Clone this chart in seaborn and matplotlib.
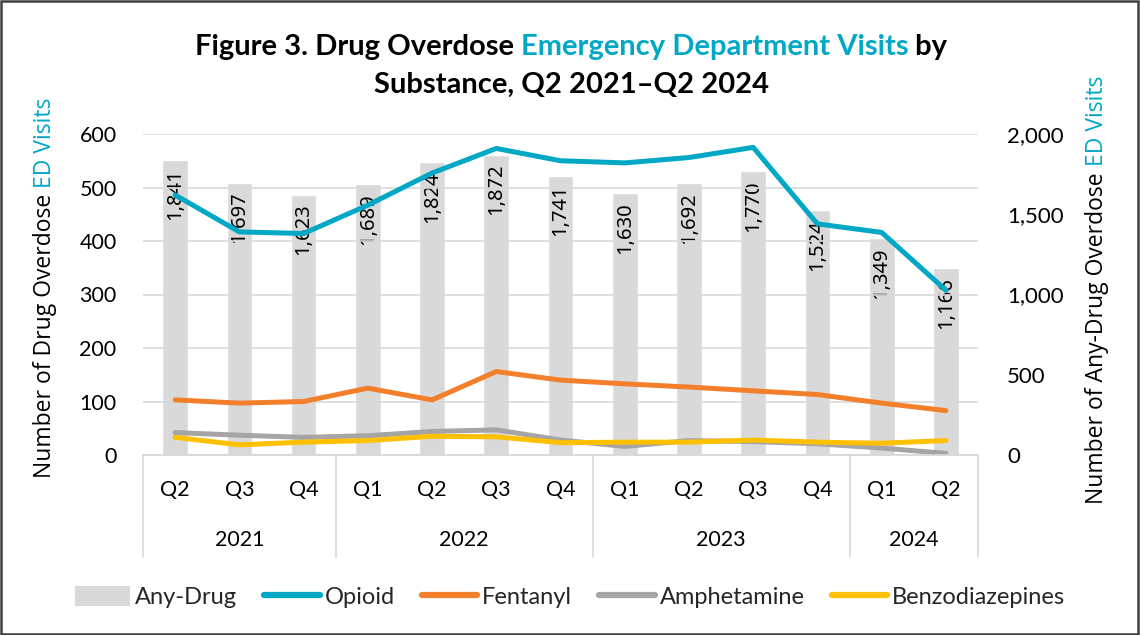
import numpy as np
import pandas as pd
import matplotlib
matplotlib.use("Agg")
import matplotlib.pyplot as plt
import matplotlib.transforms as mtransforms
from matplotlib.patches import Patch, Rectangle
from matplotlib.lines import Line2D
import seaborn as sns

# ---- data ----
quarters = ["Q2", "Q3", "Q4", "Q1", "Q2", "Q3", "Q4", "Q1", "Q2", "Q3", "Q4", "Q1", "Q2"]
years = ["2021", "2022", "2023", "2024"]
quarters_per_year = [3, 4, 4, 2]
any_drug = [1841, 1697, 1623, 1689, 1824, 1872, 1741, 1630, 1692, 1770, 1524, 1349, 1166]
opioid = [486, 417, 414, 467, 527, 573, 550, 546, 556, 575, 432, 416, 308]
fentanyl = [103, 97, 100, 125, 103, 156, 140, 133, 127, 120, 113, 97, 83]
amphetamine = [42, 37, 33, 36, 44, 47, 28, 16, 27, 25, 21, 13, 3]
benzodiazepines = [33, 19, 24, 27, 35, 34, 23, 24, 24, 28, 24, 22, 27]

TEAL = "#00A8C6"
ORANGE = "#F47F2A"
GRAY = "#A5A5A5"
YELLOW = "#FFC000"
BAR = "#D9D9D9"
GRID = "#D9D9D9"

series = {
    "Opioid": (opioid, TEAL),
    "Fentanyl": (fentanyl, ORANGE),
    "Amphetamine": (amphetamine, GRAY),
    "Benzodiazepines": (benzodiazepines, YELLOW),
}

n = len(quarters)
idx = np.arange(n)
bars_df = pd.DataFrame({"pos": idx, "visits": any_drug})
lines_df = pd.concat(
    [pd.DataFrame({"pos": idx, "visits": vals, "series": name}) for name, (vals, _) in series.items()],
    ignore_index=True,
)

sns.set_theme(style="white")
plt.rcParams["font.family"] = ["Lato", "DejaVu Sans"]

W, H = 1140, 635
fig = plt.figure(figsize=(W / 100, H / 100), dpi=100)
fig.subplots_adjust(left=143 / W, right=978 / W, bottom=(H - 455) / H, top=(H - 134) / H)
ax = fig.add_subplot(111)
ax2 = ax.twinx()

# bars on the secondary (right) axis, lines on the primary axis drawn above
ax.set_zorder(ax2.get_zorder() + 1)
ax.patch.set_visible(False)

sns.barplot(data=bars_df, x="pos", y="visits", ax=ax2, color=BAR, width=0.4,
            saturation=1, errorbar=None)
sns.lineplot(data=lines_df, x="pos", y="visits", hue="series",
             palette={k: c for k, (_, c) in series.items()}, ax=ax, linewidth=3.6,
             legend=False, solid_capstyle="round", solid_joinstyle="round")

ax.set_xlim(-0.5, n - 0.5)
ax2.set_xlim(-0.5, n - 0.5)
ax.set_ylim(0, 600)
ax2.set_ylim(0, 2000)
ax.set_yticks(range(0, 601, 100))
ax2.set_yticks(range(0, 2001, 500))
ax2.set_yticklabels([f"{v:,}" for v in range(0, 2001, 500)])
ax.yaxis.grid(True, color=GRID, linewidth=1.2)
ax2.grid(False)
ax.set_xlabel("")
ax.set_ylabel("")
ax2.set_xlabel("")
ax2.set_ylabel("")

for a in (ax, ax2):
    for s in ("top", "left", "right"):
        a.spines[s].set_visible(False)
    a.spines["bottom"].set_color(GRID)
    a.spines["bottom"].set_linewidth(1.2)

ax.tick_params(axis="y", length=0, pad=19, labelsize=15.5, labelcolor="black")
ax2.tick_params(axis="y", length=0, pad=21, labelsize=16, labelcolor="black")
ax.set_xticks(idx)
ax.set_xticklabels(quarters)
ax.tick_params(axis="x", length=0, pad=18, labelsize=15.5, labelcolor="black")
ax2.tick_params(axis="x", length=0, labelbottom=False)

# value labels inside the top of each bar
for i, v in enumerate(any_drug):
    ax2.annotate(f"{v:,}", xy=(i, v), xytext=(0, -6.5), textcoords="offset points",
                 rotation=90, ha="center", va="top", fontsize=14.5,
                 family=["Noto Sans", "DejaVu Sans"], color="black")

# year groups below the quarter labels
trans = mtransforms.blended_transform_factory(ax.transData, ax.transAxes)
bounds = np.concatenate([[0], np.cumsum(quarters_per_year)]) - 0.5
for b in bounds:
    ax.plot([b, b], [0, -0.318], transform=trans, color=GRID, lw=1.2, clip_on=False)
for yr, lo, hi in zip(years, bounds[:-1], bounds[1:]):
    ax.text((lo + hi) / 2, -0.265, yr, transform=trans, ha="center", va="center",
            fontsize=15.5, color="black")

# multi-colour text helper (pixel coordinates)
renderer = fig.canvas.get_renderer()
ident = mtransforms.IdentityTransform()


def text_width(s, **kw):
    t = fig.text(0, 0, s, transform=ident, **kw)
    w = t.get_window_extent(renderer).width
    t.remove()
    return w


def multicolor(pieces, cx, cy, rotation=0, **kw):
    full = "".join(p for p, _ in pieces)
    total = text_width(full, **kw)
    for k, (p, c) in enumerate(pieces):
        rest = "".join(q for q, _ in pieces[k:])
        off = total - text_width(rest, **kw)
        if rotation == 0:
            fig.text(cx - total / 2 + off, cy, p, color=c, transform=ident,
                     ha="left", va="center", **kw)
        else:
            fig.text(cx, cy - total / 2 + off, p, color=c, transform=ident,
                     rotation=90, ha="center", va="bottom", **kw)


title_kw = dict(fontsize=21, fontweight="bold", family=["Lato", "DejaVu Sans"])
multicolor([("Figure 3. Drug Overdose ", "black"),
            ("Emergency Department Visits", TEAL),
            (" by", "black")], 571, H - 47, **title_kw)
multicolor([("Substance, Q2 2021\u2013Q2 2024", "black")], 572, H - 85, **title_kw)

label_kw = dict(fontsize=16.5, family=["Open Sans", "DejaVu Sans"])
multicolor([("Number of Drug Overdose ", "black"), ("ED Visits", TEAL)],
           45, H - 288, rotation=90, **label_kw)
multicolor([("Number of Any-Drug Overdose ", "black"), ("ED Visits", TEAL)],
           1097, H - 290, rotation=90, **label_kw)

# legend
handles = [Patch(facecolor=BAR, edgecolor="none", label="Any-Drug")]
handles += [Line2D([], [], color=c, lw=4.5, solid_capstyle="round", label=k)
            for k, (_, c) in series.items()]
fig.legend(handles=handles, loc="center", bbox_to_anchor=(0.5, (H - 597) / H),
           ncol=5, frameon=False, fontsize=17, handlelength=2.35,
           handletextpad=0.2, columnspacing=1.15, handleheight=0.9)

# outer frame
fig.add_artist(Rectangle((0.001, 0.002), 0.997, 0.996, transform=fig.transFigure,
                         fill=False, edgecolor="#404040", lw=1.8))

fig.savefig("out.png", dpi=100)
